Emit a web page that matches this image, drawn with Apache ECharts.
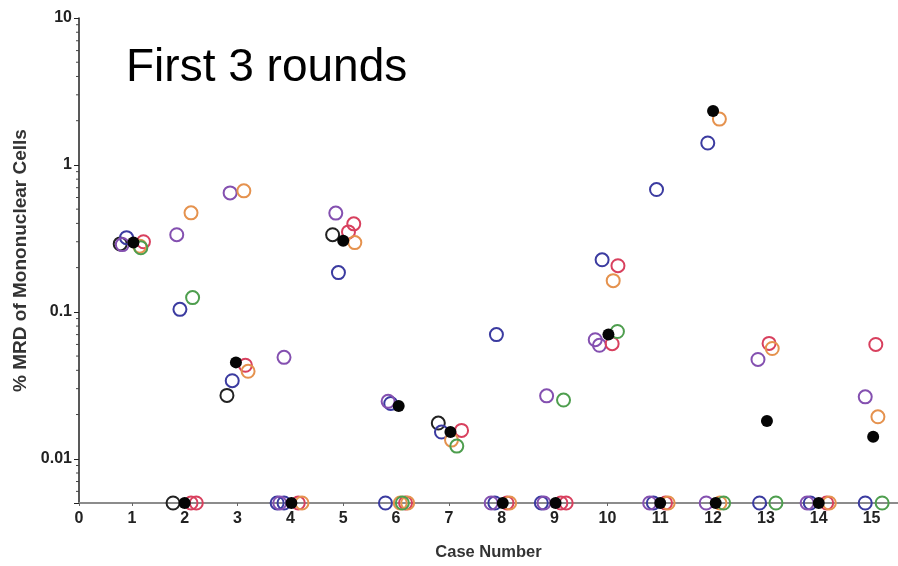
<!DOCTYPE html>
<html><head><meta charset="utf-8">
<script src="https://cdn.jsdelivr.net/npm/echarts@6/dist/echarts.min.js"></script>
<style>html,body{margin:0;padding:0;background:#fff}#c{width:898px;height:566px}</style>
</head><body><div id="c"></div>
<script>
// x tick labels (case numbers)
const caseTicks = [0,1,2,3,4,5,6,7,8,9,10,11,12,13,14,15];
// y major tick labels
const yTicks = [0.01, 0.1, 1, 10];
// y minor tick values
const yMinor = [0.006,0.007,0.008,0.009,0.02,0.03,0.04,0.05,0.06,0.07,0.08,0.09,
  0.2,0.3,0.4,0.5,0.6,0.7,0.8,0.9,2,3,4,5,6,7,8,9];

// series: [case position, % MRD]
const blackOpen = [[0.78,0.29],[1.78,0.005],[2.8,0.027],[4.8,0.335],[6.8,0.0175]];
const blueOpen = [[0.9,0.32],[1.91,0.104],[2.9,0.034],[3.75,0.005],[3.88,0.005],[4.91,0.185],
  [5.8,0.005],[5.9,0.0238],[6.86,0.0152],[7.87,0.005],[7.9,0.07],[8.75,0.005],[9.9,0.226],
  [10.87,0.005],[10.93,0.68],[11.9,1.41],[12.88,0.005],[13.84,0.005],[14.88,0.005]];
const purpleOpen = [[0.82,0.287],[1.85,0.335],[2.86,0.645],[3.8,0.005],[3.88,0.049],[4.86,0.47],
  [5.85,0.0246],[7.8,0.005],[8.8,0.005],[8.85,0.0268],[9.77,0.0646],[9.85,0.0592],[10.8,0.005],
  [11.87,0.005],[12.85,0.0474],[13.78,0.005],[14.88,0.0264]];
const redOpen = [[1.22,0.30],[2.12,0.005],[2.22,0.005],[3.15,0.0433],[4.15,0.005],[5.1,0.35],
  [5.2,0.397],[6.18,0.005],[7.24,0.0156],[8.1,0.005],[9.12,0.005],[9.22,0.005],[10.09,0.0607],
  [10.2,0.206],[11.1,0.005],[13.06,0.061],[14.15,0.005],[15.08,0.060]];
const orangeOpen = [[1.15,0.28],[2.12,0.472],[3.12,0.666],[3.2,0.0394],[4.22,0.005],[5.22,0.296],
  [6.08,0.005],[6.22,0.005],[7.05,0.0134],[8.15,0.005],[10.11,0.163],[11.15,0.005],[12.12,2.05],
  [12.13,0.005],[13.12,0.0563],[14.2,0.005],[15.12,0.0193]];
const greenOpen = [[1.17,0.273],[2.15,0.125],[6.12,0.005],[7.15,0.0122],[9.17,0.0251],[10.19,0.0735],
  [12.2,0.005],[13.19,0.005],[15.2,0.005]];
const blackFilled = [[1.03,0.296],[2.0,0.005],[2.97,0.0453],[4.02,0.005],[5.0,0.305],[6.05,0.0229],
  [7.03,0.0152],[8.02,0.005],[9.02,0.005],[10.02,0.07],[11.0,0.005],[12.0,2.33],[12.05,0.005],
  [13.02,0.0181],[14.0,0.005],[15.03,0.0141]];

function openSeries(data, color) {
  return { type: 'scatter', data: data, symbol: 'circle', symbolSize: 13, clip: false,
    itemStyle: { color: 'rgba(255,255,255,0)', borderColor: color, borderWidth: 2, opacity: 1 } };
}
const font = '"Liberation Sans", Arial, sans-serif';
const chart = echarts.init(document.getElementById('c'), null, { renderer: 'canvas' });
chart.setOption({
  animation: false,
  backgroundColor: '#fff',
  title: { text: 'First 3 rounds', left: 121, top: 40,
    textStyle: { fontFamily: font, fontSize: 46, fontWeight: 'normal', color: '#000' } },
  grid: { left: 79, right: 0, top: 18, bottom: 62 },
  xAxis: {
    type: 'value', min: 0, max: 15.5, interval: 1,
    name: 'Case Number', nameLocation: 'middle', nameGap: 41,
    nameTextStyle: { fontFamily: font, fontSize: 16.5, fontWeight: 'bold', color: '#333' },
    axisLine: { onZero: false, lineStyle: { color: '#8c8c8c', width: 2 } },
    axisTick: { show: true, length: 3, customValues: caseTicks, lineStyle: { color: '#666', width: 1 } },
    axisLabel: { customValues: caseTicks, margin: 8, fontFamily: font, fontSize: 16, fontWeight: 'bold', color: '#222' },
    splitLine: { show: false }
  },
  yAxis: {
    type: 'log', min: 0.005, max: 10, logBase: 10,
    name: '% MRD of Mononuclear Cells', nameLocation: 'middle', nameGap: 49,
    nameTextStyle: { fontFamily: font, fontSize: 19, fontWeight: 'bold', color: '#333' },
    axisLine: { lineStyle: { color: '#222', width: 1.5 } },
    axisTick: { length: 5, lineStyle: { color: '#222' } },
    axisLabel: { margin: 7, fontFamily: font, fontSize: 16, fontWeight: 'bold', color: '#222',
      formatter: function (v) {
        for (const t of yTicks) { if (Math.abs(v - t) / t < 1e-6) return String(t); }
        return '';
      } },
    splitLine: { show: false }
  },
  series: [
    { type: 'custom', data: yMinor.map(v => [0, v]), clip: false, silent: true,
      renderItem: function (params, api) {
        const p = api.coord([0, api.value(1)]);
        return { type: 'line', shape: { x1: p[0] - 3, y1: p[1], x2: p[0], y2: p[1] },
          style: { stroke: '#444', lineWidth: 1 } };
      } },
    openSeries(blackOpen, '#222222'),
    openSeries(blueOpen, '#3b3ba0'),
    openSeries(purpleOpen, '#8450b0'),
    openSeries(redOpen, '#d8405e'),
    openSeries(orangeOpen, '#e5924e'),
    openSeries(greenOpen, '#4e9e4e'),
    { type: 'scatter', data: blackFilled, symbol: 'circle', symbolSize: 12, clip: false,
      itemStyle: { color: '#050505', opacity: 1 } }
  ]
});
</script></body></html>
